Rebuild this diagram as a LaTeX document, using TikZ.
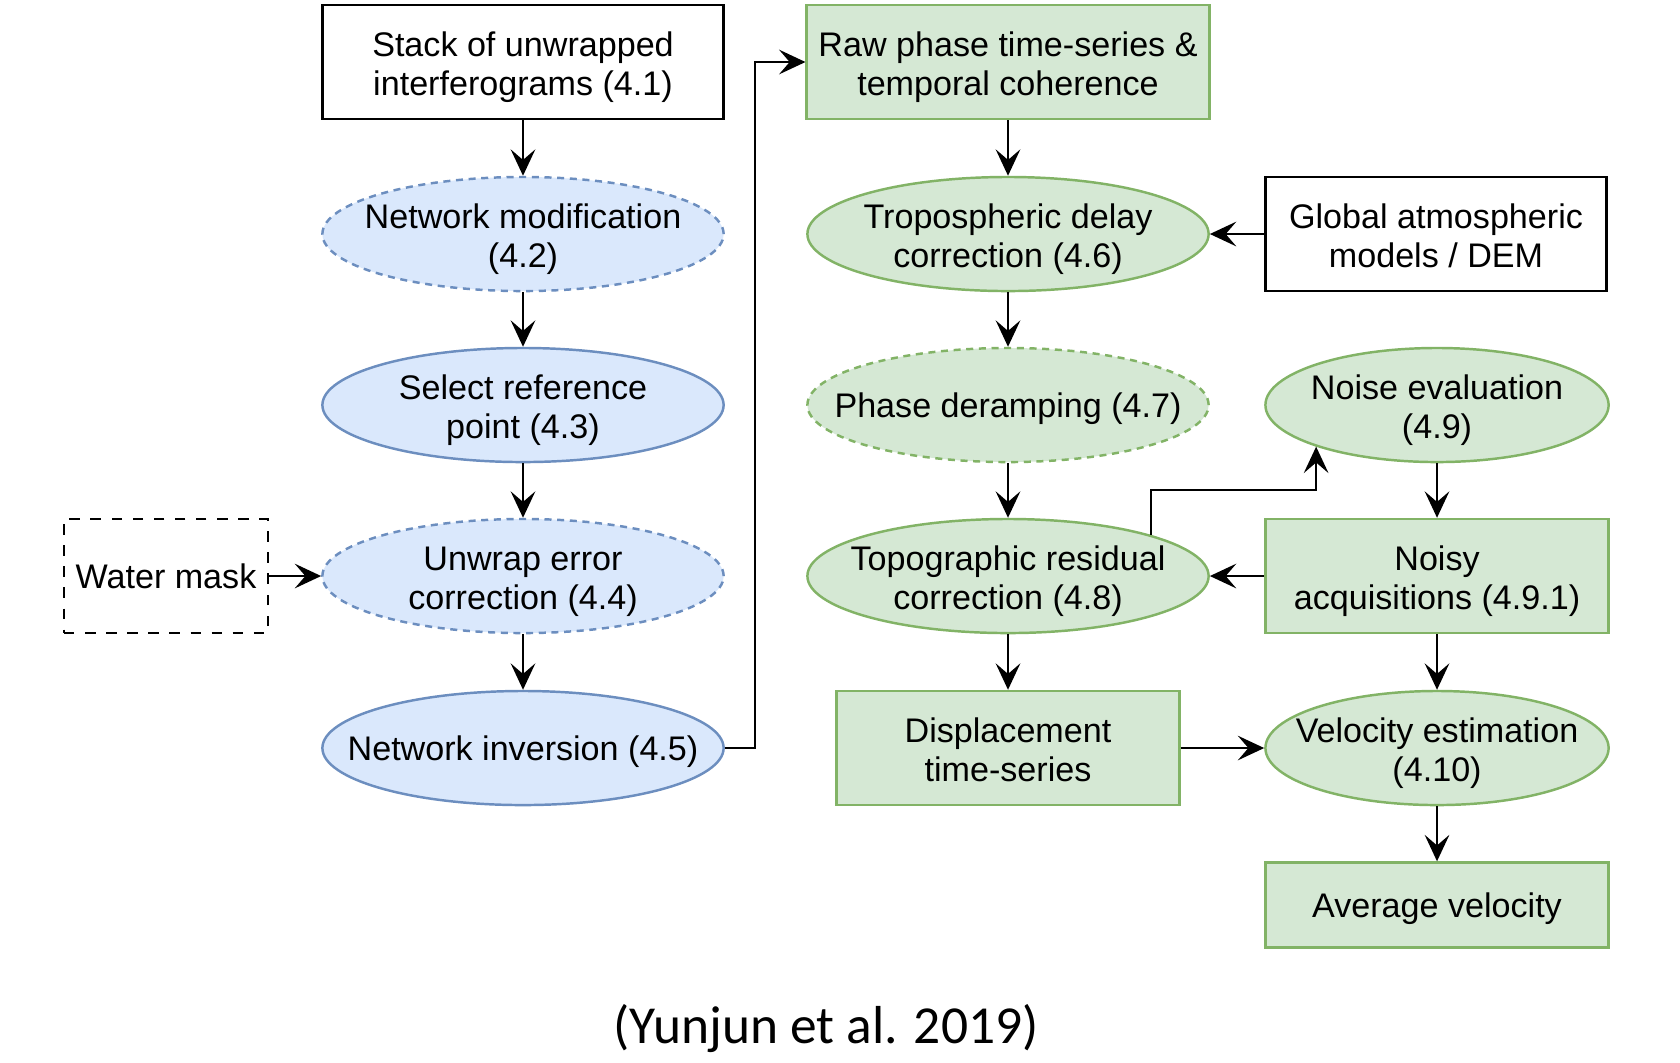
\documentclass[tikz,border=0pt]{standalone}
\usepackage{fontspec}
\setmainfont{Liberation Sans}
\newfontfamily\capfont{Carlito}
\usetikzlibrary{arrows.meta,calc,positioning}
\usetikzlibrary{shapes.geometric}
\definecolor{blfill}{HTML}{DAE8FC}
\definecolor{bldraw}{HTML}{6C8EBF}
\definecolor{grfill}{HTML}{D5E8D4}
\definecolor{grdraw}{HTML}{82B366}

\begin{document}
\begin{tikzpicture}[x=0.01cm,y=-0.01cm,
every node/.style={align=center,font=\fontsize{9.7pt}{11.3pt}\selectfont},
twoline/.style={text height=21.5pt,text depth=2.3pt},
oneline/.style={text height=9.6pt,text depth=2.3pt},
plainbox/.style={twoline,rectangle,draw,line width=0.8pt,minimum width=4.01cm,minimum height=1.14cm},
blueell/.style={twoline,ellipse,draw=bldraw,fill=blfill,line width=0.7pt,inner xsep=-1cm,inner ysep=-0.5cm,minimum width=4.01cm,minimum height=1.14cm},
greenell/.style={twoline,ellipse,draw=grdraw,fill=grfill,line width=0.7pt,inner xsep=-1cm,inner ysep=-0.5cm,minimum width=4.01cm,minimum height=1.14cm},
greenbox/.style={twoline,rectangle,draw=grdraw,fill=grfill,line width=0.7pt,minimum width=3.43cm,minimum height=1.14cm},
dashes/.style={dash pattern=on 2pt off 1.6pt},
arr/.style={-{Stealth[length=7.5pt,width=7pt,inset=3pt]},line width=0.7pt}]
\useasboundingbox (0,0) rectangle (1680,1062);
% left column
\node[plainbox] (stack) at (523,62) {Stack of unwrapped\\interferograms (4.1)};
\node[blueell,dashes] (netmod) at (523,234) {Network modification\\(4.2)};
\node[blueell] (refpt) at (523,405) {Select reference\\point (4.3)};
\node[blueell,dashes] (unwrap) at (523,576) {Unwrap error\\correction (4.4)};
\node[blueell,oneline] (inv) at (523,748) {Network inversion (4.5)};
\node[plainbox,oneline,dashed,minimum width=2.01cm] (water) at (166,576) {Water mask};
% right column
\node[greenbox,minimum width=4.01cm] (raw) at (1008,62) {Raw phase time-series \&\\temporal coherence};
\node[greenell] (tropo) at (1008,234) {Tropospheric delay\\correction (4.6)};
\node[plainbox,minimum width=3.41cm] (global) at (1436,234) {Global atmospheric\\models / DEM};
\node[greenell,oneline,dashes] (deramp) at (1008,405) {Phase deramping (4.7)};
\node[greenell,minimum width=3.43cm] (noise) at (1437,405) {Noise evaluation\\(4.9)};
\node[greenell] (topo) at (1008,576) {Topographic residual\\correction (4.8)};
\node[greenbox] (noisy) at (1437,576) {Noisy\\acquisitions (4.9.1)};
\node[greenbox] (disp) at (1008,748) {Displacement\\time-series};
\node[greenell,minimum width=3.43cm] (vel) at (1437,748) {Velocity estimation\\(4.10)};
\node[greenbox,oneline,minimum height=0.85cm] (avg) at (1437,905) {Average velocity};
\node[font=\capfont\fontsize{15.2pt}{18pt}\selectfont] (cite) at (826,1028) {(Yunjun et al. 2019)};
% connectors
\draw[arr] (stack)--(netmod);
\draw[arr] (netmod)--(refpt);
\draw[arr] (refpt)--(unwrap);
\draw[arr] (unwrap)--(inv);
\draw[arr] (water)--(unwrap);
\draw[arr] (inv.east) -- ++(30,0) |- (raw.west);
\draw[arr] (raw)--(tropo);
\draw[arr] (global)--(tropo);
\draw[arr] (tropo)--(deramp);
\draw[arr] (deramp)--(topo);
\draw[arr] (topo.16) -- ++(0,-45) -| (noise.199);
\draw[arr] (noise)--(noisy);
\draw[arr] (noisy)--(topo);
\draw[arr] (topo)--(disp);
\draw[arr] (noisy)--(vel);
\draw[arr] (disp)--(vel);
\draw[arr] (vel)--(avg);
\end{tikzpicture}
\end{document}
